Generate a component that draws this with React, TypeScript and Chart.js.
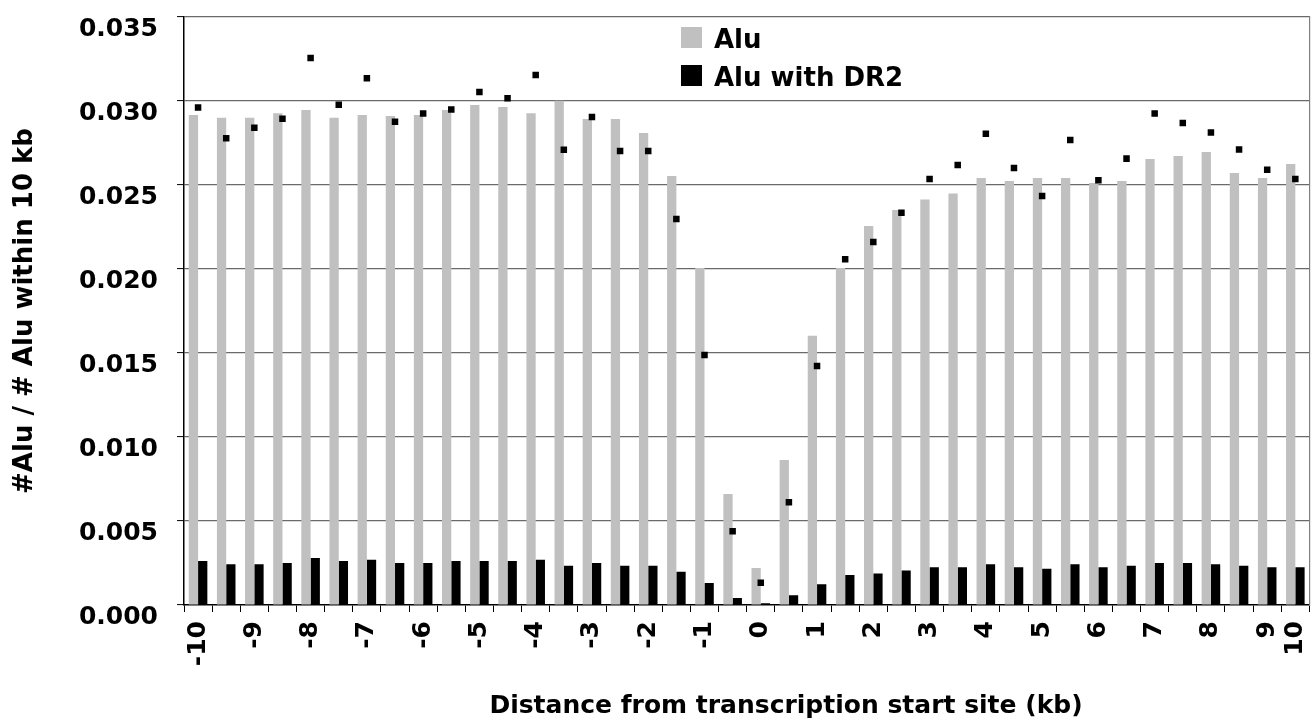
import React, { useEffect, useRef } from 'react';
import { Chart, registerables } from 'chart.js';

Chart.register(...registerables);

const FONT = '"DejaVu Sans", Verdana, sans-serif';

// Distance bins (kb), 0.5 kb steps
const categories: number[] = [
  -10, -9.5, -9, -8.5, -8, -7.5, -7, -6.5, -6, -5.5,
  -5, -4.5, -4, -3.5, -3, -2.5, -2, -1.5, -1, -0.5,
  0, 0.5, 1, 1.5, 2, 2.5, 3, 3.5, 4, 4.5,
  5, 5.5, 6, 6.5, 7, 7.5, 8, 8.5, 9, 9.5,
];

const tickLabels: string[] = [
  '-10', '', '-9', '', '-8', '', '-7', '', '-6', '',
  '-5', '', '-4', '', '-3', '', '-2', '', '-1', '',
  '0', '', '1', '', '2', '', '3', '', '4', '',
  '5', '', '6', '', '7', '', '8', '', '9', '10',
];

// Gray bars: Alu
const aluValues: number[] = [
  0.02917, 0.02901, 0.02901, 0.02927, 0.02946, 0.02901, 0.02917, 0.02911, 0.02917, 0.02946,
  0.02976, 0.02964, 0.02927, 0.03002, 0.02893, 0.02893, 0.02810, 0.02554, 0.02006, 0.00661,
  0.00220, 0.00863, 0.01603, 0.02006, 0.02256, 0.02351, 0.02413, 0.02449, 0.02542, 0.02524,
  0.02542, 0.02542, 0.02512, 0.02524, 0.02655, 0.02673, 0.02696, 0.02571, 0.02542, 0.02625,
];

// Black bars: Alu with DR2
const dr2Values: number[] = [
  0.00262, 0.00242, 0.00242, 0.00250, 0.00280, 0.00262, 0.00270, 0.00250, 0.00250, 0.00262,
  0.00262, 0.00262, 0.00270, 0.00234, 0.00250, 0.00234, 0.00234, 0.00198, 0.00131, 0.00042,
  0.00010, 0.00058, 0.00123, 0.00179, 0.00187, 0.00206, 0.00224, 0.00224, 0.00242, 0.00224,
  0.00216, 0.00242, 0.00224, 0.00234, 0.00250, 0.00250, 0.00242, 0.00234, 0.00224, 0.00224,
];

// Black square markers: Alu with DR2, normalized
const dr2Normalized: number[] = [
  0.02962, 0.02778, 0.02841, 0.02895, 0.03256, 0.02978, 0.03135, 0.02877, 0.02925, 0.02950,
  0.03054, 0.03016, 0.03155, 0.02710, 0.02905, 0.02702, 0.02702, 0.02298, 0.01488, 0.00439,
  0.00133, 0.00611, 0.01423, 0.02058, 0.02161, 0.02335, 0.02536, 0.02619, 0.02805, 0.02601,
  0.02435, 0.02768, 0.02528, 0.02657, 0.02925, 0.02869, 0.02813, 0.02712, 0.02591, 0.02536,
];

const seriesNames = ['Alu', 'Alu with DR2'];
const seriesColors = ['#C0C0C0', '#000000'];
const yTitle = '#Alu / # Alu within 10 kb';
const xTitle = 'Distance from transcription start site (kb)';

const zeroPadding = (s: any) => {
  s.paddingLeft = 0;
  s.paddingRight = 0;
  s.paddingTop = 0;
  s.paddingBottom = 0;
};

export default function App() {
  const canvasRef = useRef<HTMLCanvasElement>(null);

  useEffect(() => {
    const canvas = canvasRef.current;
    if (!canvas) return;
    Chart.defaults.font.family = FONT;
    const chart = new Chart(canvas, {
      type: 'bar',
      data: {
        labels: categories.map(String),
        datasets: [
          {
            type: 'bar',
            label: seriesNames[0],
            data: aluValues,
            backgroundColor: seriesColors[0],
            borderWidth: 0,
            order: 1,
            categoryPercentage: 0.66,
            barPercentage: 1.0,
          },
          {
            type: 'bar',
            label: seriesNames[1],
            data: dr2Values,
            backgroundColor: seriesColors[1],
            borderWidth: 0,
            order: 1,
            categoryPercentage: 0.66,
            barPercentage: 1.0,
          },
          {
            type: 'line',
            label: 'Alu with DR2 (normalized)',
            data: dr2Normalized,
            showLine: false,
            pointStyle: 'rect',
            pointRadius: 4.6,
            pointBackgroundColor: '#000000',
            pointBorderWidth: 0,
            borderColor: '#000000',
            order: 0,
          },
        ],
      } as any,
      options: {
        responsive: true,
        maintainAspectRatio: false,
        animation: false,
        events: [],
        layout: { padding: { top: 17, right: 1, left: 0, bottom: 0 } },
        plugins: {
          legend: { display: false },
          tooltip: { enabled: false },
        },
        scales: {
          x: {
            type: 'category',
            offset: true,
            grid: {
              display: true,
              drawOnChartArea: false,
              drawTicks: true,
              tickLength: 7,
              tickColor: '#000000',
              tickWidth: 1,
              offset: true,
            },
            border: { display: true, color: '#000000', width: 1.5 },
            ticks: {
              autoSkip: false,
              minRotation: 90,
              maxRotation: 90,
              padding: 9,
              color: '#000000',
              font: { family: FONT, size: 25, weight: 'bold' },
              callback: (_v: any, i: number) => tickLabels[i],
            },
            afterFit: (s: any) => {
              s.height = 114;
              zeroPadding(s);
            },
          },
          y: {
            type: 'linear',
            min: 0,
            max: 0.035,
            ticks: {
              stepSize: 0.005,
              padding: 19,
              labelOffset: 12,
              color: '#000000',
              font: { family: FONT, size: 25, weight: 'bold' },
              callback: (v: any) => Number(v).toFixed(3),
            },
            grid: {
              color: (c: any) => (c.tick && c.tick.value === 0 ? 'rgba(0,0,0,0)' : '#6a6a6a'),
              lineWidth: 1.2,
              drawTicks: true,
              tickLength: 7,
              tickColor: '#000000',
              tickWidth: 1,
            },
            border: { display: true, color: '#000000', width: 1.5 },
            title: {
              display: true,
              text: yTitle,
              color: '#000000',
              font: { family: FONT, size: 26, weight: 'bold' },
              padding: { top: 10, bottom: 0 },
            },
            afterFit: (s: any) => {
              s.width = 184;
              zeroPadding(s);
            },
          },
          yr: {
            type: 'linear',
            position: 'right',
            display: true,
            grid: { display: false, drawTicks: false },
            ticks: { display: false },
            border: { display: true, color: '#808080', width: 1.2 },
            afterFit: (s: any) => {
              s.width = 0;
              zeroPadding(s);
            },
          },
        },
      } as any,
    });
    return () => chart.destroy();
  }, []);

  const textStyle: React.CSSProperties = {
    position: 'absolute',
    fontFamily: FONT,
    fontWeight: 'bold',
    color: '#000',
    whiteSpace: 'nowrap',
  };

  return (
    <div
      style={{
        position: 'fixed',
        left: 0,
        top: 0,
        width: 1314,
        height: 719,
        background: '#ffffff',
        overflow: 'hidden',
      }}
    >
      <div style={{ position: 'absolute', left: 0, top: 0, width: 1314, height: 719 }}>
        <canvas ref={canvasRef} />
      </div>
      {/* Legend */}
      <div style={{ position: 'absolute', left: 681, top: 27, width: 21, height: 21, background: seriesColors[0] }} />
      <div style={{ ...textStyle, left: 714, top: 20, fontSize: 26, lineHeight: '38px' }}>{seriesNames[0]}</div>
      <div style={{ position: 'absolute', left: 681, top: 65, width: 21, height: 21, background: seriesColors[1] }} />
      <div style={{ ...textStyle, left: 714, top: 58, fontSize: 26, lineHeight: '38px' }}>{seriesNames[1]}</div>
      {/* X axis title */}
      <div
        style={{
          ...textStyle,
          left: 386,
          width: 800,
          top: 690,
          fontSize: 25,
          lineHeight: '30px',
          textAlign: 'center',
        }}
      >
        {xTitle}
      </div>
    </div>
  );
}
